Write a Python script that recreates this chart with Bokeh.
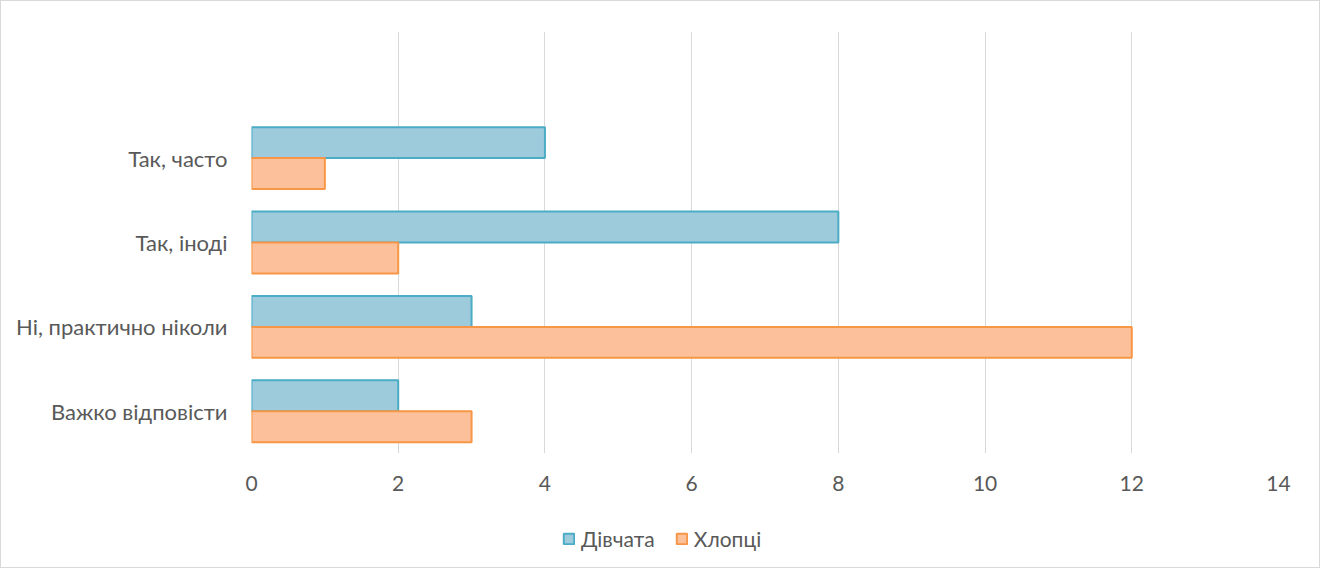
from bokeh.plotting import figure
from bokeh.layouts import column
from bokeh.models import FixedTicker, Range1d, ColumnDataSource, Legend, LegendItem
from bokeh.embed import file_html
from bokeh.resources import INLINE

categories = ["Важко відповісти", "Ні, практично ніколи", "Так, іноді", "Так, часто"]
girls = [2, 3, 8, 4]
boys = [3, 12, 2, 1]
series_names = ["Дівчата", "Хлопці"]
x_ticks = [0, 2, 4, 6, 8, 10, 12, 14]

FONT = "Lato"
TXT = "#595959"
BAR_H = 0.367
G_FILL, G_LINE = "#9dcbdc", "#4bacc6"
B_FILL, B_LINE = "#fcc09b", "#f79646"

pos = list(range(1, len(categories) + 1))
src = ColumnDataSource(dict(
    pos=pos,
    girls=girls,
    boys=boys,
    y_g=[p_ + BAR_H / 2 for p_ in pos],
    y_b=[p_ - BAR_H / 2 for p_ in pos],
))

p = figure(width=1318, height=515, output_backend="svg", toolbar_location=None,
           x_range=Range1d(0, 14), y_range=Range1d(0.5, len(categories) + 1.5),
           min_border_left=250, min_border_right=41, min_border_top=30, min_border_bottom=63)
p.outline_line_color = None

p.hbar(y="y_g", right="girls", left=0, height=BAR_H, source=src,
       fill_color=G_FILL, line_color=G_LINE, line_width=2)
p.hbar(y="y_b", right="boys", left=0, height=BAR_H, source=src,
       fill_color=B_FILL, line_color=B_LINE, line_width=2)

p.xaxis.ticker = FixedTicker(ticks=x_ticks)
p.xaxis.axis_line_color = None
p.xaxis.major_tick_line_color = None
p.xaxis.minor_tick_line_color = None
p.xaxis.major_label_text_font = FONT
p.xaxis.major_label_text_font_size = "21px"
p.xaxis.major_label_text_color = TXT
p.xaxis.major_label_standoff = 16

p.yaxis.ticker = FixedTicker(ticks=pos)
p.yaxis.major_label_overrides = {p_: c for p_, c in zip(pos, categories)}
p.yaxis.axis_line_color = None
p.yaxis.major_tick_line_color = None
p.yaxis.minor_tick_line_color = None
p.yaxis.major_label_text_font = FONT
p.yaxis.major_label_text_font_size = "22px"
p.yaxis.major_label_text_color = TXT
p.yaxis.major_label_standoff = 18

p.xgrid.grid_line_color = "#d9d9d9"
p.xgrid.grid_line_width = 1
p.ygrid.grid_line_color = None

# legend strip (its renderers are hidden; only the legend shows)
q = figure(width=1318, height=51, output_backend="svg", toolbar_location=None,
           x_range=Range1d(0, 1), y_range=Range1d(0, 1),
           min_border=0, x_axis_location=None, y_axis_location=None)
q.outline_line_color = None
q.grid.grid_line_color = None
lg_g = q.hbar(y=[0.5], right=[0.6], left=0.5, height=0.5,
              fill_color=G_FILL, line_color=G_LINE, line_width=2)
lg_b = q.hbar(y=[0.5], right=[0.6], left=0.5, height=0.5,
              fill_color=B_FILL, line_color=B_LINE, line_width=2)
lg_g.visible = False
lg_b.visible = False
lg = Legend(items=[LegendItem(label=series_names[0], renderers=[lg_g]),
                   LegendItem(label=series_names[1], renderers=[lg_b])])
lg.orientation = "horizontal"
lg.location = (311, 16)
lg.border_line_color = None
lg.background_fill_alpha = 0
lg.padding = 0
lg.margin = 0
lg.spacing = 20
lg.glyph_width = 13
lg.glyph_height = 13
lg.label_standoff = 6
lg.label_text_font = FONT
lg.label_text_font_size = "21px"
lg.label_text_color = TXT
q.add_layout(lg, "center")

layout = column(p, q, spacing=0,
                styles={"border": "1px solid #d9d9d9", "box-sizing": "border-box",
                        "background-color": "white"})

open("out.html", "w").write(file_html(layout, INLINE))
